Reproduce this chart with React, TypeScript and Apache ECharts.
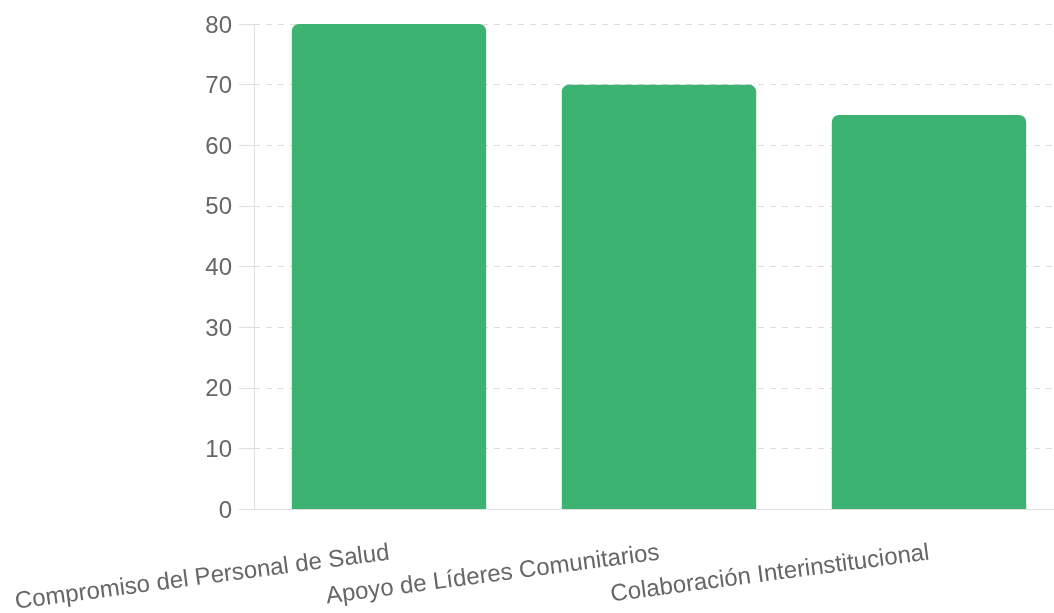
import React, { useEffect, useRef } from "react";
import * as echarts from "echarts";

const categories = [
  "Compromiso del Personal de Salud",
  "Apoyo de Líderes Comunitarios",
  "Colaboración Interinstitucional",
];
const values = [80, 70, 65];

export default function App() {
  const ref = useRef<HTMLDivElement>(null);
  useEffect(() => {
    if (!ref.current) return;
    const chart = echarts.init(ref.current, null, { renderer: "svg" });
    const font = "'Liberation Sans', Arial, Helvetica, sans-serif";
    chart.setOption({
      animation: false,
      grid: { left: 254, right: 0, top: 24, bottom: 104, containLabel: false },
      xAxis: {
        type: "category",
        data: categories,
        axisLine: { show: true, lineStyle: { color: "#e0e0e0", width: 1 } },
        axisTick: { show: false },
        axisLabel: {
          rotate: 7.5,
          interval: 0,
          margin: 42,
          color: "#666666",
          fontSize: 24,
          fontFamily: font,
        },
        splitLine: { show: false },
      },
      yAxis: {
        type: "value",
        min: 0,
        max: 80,
        interval: 10,
        axisLine: { show: true, lineStyle: { color: "#e0e0e0", width: 1 } },
        axisTick: { show: true, length: 15, lineStyle: { color: "#e0e0e0" } },
        axisLabel: {
          margin: 22,
          color: "#666666",
          fontSize: 24,
          fontFamily: font,
        },
        splitLine: {
          show: true,
          lineStyle: { color: "#dcdcdc", type: [6, 6], width: 1 },
        },
      },
      series: [
        {
          type: "bar",
          data: values,
          barWidth: "72%",
          itemStyle: { color: "#3cb371", borderRadius: [7, 7, 0, 0] },
        },
      ],
    });
    return () => chart.dispose();
  }, []);
  return (
    <div
      style={{
        position: "fixed",
        left: 0,
        top: 0,
        width: 1054,
        height: 613,
        overflow: "hidden",
      }}
    >
      <div ref={ref} style={{ width: 1064, height: 613 }} />
    </div>
  );
}
